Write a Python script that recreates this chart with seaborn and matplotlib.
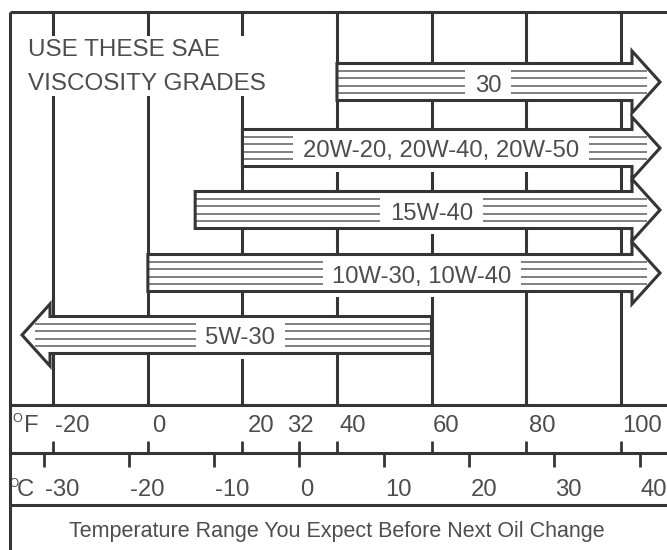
import matplotlib
matplotlib.use("Agg")
import matplotlib.pyplot as plt
from matplotlib.patches import FancyArrow, Rectangle
import seaborn as sns

# ---------------- data ----------------
grades = ["30", "20W-20, 20W-40, 20W-50", "15W-40", "10W-30, 10W-40", "5W-30"]
low_f = [40, 20, 10, 0, None]          # None -> no lower limit (arrow to the left)
high_f = [None, None, None, None, 60]  # None -> no upper limit (arrow to the right)
grid_f = [-20, 0, 20, 40, 60, 80, 100]
f_ticks = [-20, 0, 20, 32, 40, 60, 80, 100]
f_labels = ["-20", "0", "20", "32", "40", "60", "80", "100"]
c_ticks = [-30, -20, -10, 0, 10, 20, 30, 40]
c_labels = ["-30", "-20", "-10", "0", "10", "20", "30", "40"]
title_lines = ["USE THESE SAE", "VISCOSITY GRADES"]
caption = "Temperature Range You Expect Before Next Oil Change"

# ---------------- layout / style ----------------
W, H = 667, 550
PX0, PXF = 147.9, 4.727          # pixel position of 0 °F, pixels per °F


def xf(px):
    return (px - PX0) / PXF


ROW_Y = [82, 148, 210, 273, 335]
BAR_H = 37
HEAD_W = 62
HEAD_L = 28 / PXF
TIP_RIGHT = xf(660)
TIP_LEFT = xf(22)
LABEL_X = [72, 62, 60, 58, 19.5]
F_LABEL_DX = [2, 4, 5, -12, 3, 1, 3, 2]
LINE = "#353535"
TEXT = "#4d4d4d"
STRIPE = "#6a6a6a"
FONT = "Liberation Sans"
FS = 17.2

sns.set_theme(style="white")
plt.rcParams["font.family"] = [FONT, "DejaVu Sans"]

fig = plt.figure(figsize=(W / 100, H / 100), dpi=100)
ax = fig.add_axes([0, 0, 1, 1])
ax.set_xlim(xf(0), xf(W))
ax.set_ylim(H, 0)
ax.axis("off")

# frame / table lines
x_left = xf(10)
ax.vlines(grid_f, 12, 405, color=LINE, lw=2.2, zorder=1)
ax.vlines([x_left], 12, 550, color=LINE, lw=2.2, zorder=6)
ax.hlines([12, 405, 453, 505], x_left, xf(W), color=LINE, lw=2.2, zorder=6)

# white panel behind the heading
ax.add_patch(Rectangle((xf(12), 36), xf(330) - xf(12), 60, facecolor="white",
                       edgecolor="none", zorder=1.5))
ax.text(xf(28), 56, title_lines[0], fontsize=17.5, color=TEXT, ha="left",
        va="baseline", zorder=2)
ax.text(xf(28), 90, title_lines[1], fontsize=17.5, color=TEXT, ha="left",
        va="baseline", zorder=2)

# bars
for name, lo, hi, yc, lx in zip(grades, low_f, high_f, ROW_Y, LABEL_X):
    if hi is None:
        start, end = lo, TIP_RIGHT
        s0, s1 = lo, TIP_RIGHT - HEAD_L * 0.45
    else:
        start, end = hi, TIP_LEFT
        s0, s1 = TIP_LEFT + HEAD_L * 0.45, hi
    kw = dict(width=BAR_H, head_width=HEAD_W, head_length=HEAD_L,
              length_includes_head=True, overhang=0)
    ax.add_patch(FancyArrow(start, yc, end - start, 0, facecolor="white",
                            edgecolor="none", zorder=2, **kw))
    for k in (-1.5, -0.5, 0.5, 1.5):
        ax.hlines(yc + k * BAR_H / 5, s0, s1, color=STRIPE, lw=1.2, zorder=3)
    ax.text(lx, yc + 9.5, name, fontsize=FS, color=TEXT, ha="center",
            va="baseline", zorder=4,
            bbox=dict(boxstyle="square,pad=0.4", facecolor="white",
                      edgecolor="none"))
    ax.add_patch(FancyArrow(start, yc, end - start, 0, fill=False,
                            edgecolor=LINE, lw=2.2, zorder=5, **kw))

# Fahrenheit scale
ax.vlines(f_ticks, 441, 453, color=LINE, lw=2.0, zorder=6)
for t, lab, dx in zip(f_ticks, f_labels, F_LABEL_DX):
    ax.text(t + dx / PXF, 432, lab, fontsize=FS, color=TEXT, ha="left",
            va="baseline")
ax.text(xf(12), 422, "O", fontsize=9, color=TEXT, ha="left", va="baseline")
ax.text(xf(24), 432, "F", fontsize=FS, color=TEXT, ha="left", va="baseline")

# Celsius scale
c_pos = [c * 9 / 5 + 32 for c in c_ticks]
ax.vlines(c_pos, 453, 467, color=LINE, lw=2.0, zorder=6)
for p, lab in zip(c_pos, c_labels):
    ax.text(p + 1 / PXF, 496, lab, fontsize=FS, color=TEXT, ha="left",
            va="baseline")
ax.text(xf(9), 487, "O", fontsize=8.5, color=TEXT, ha="left", va="baseline")
ax.text(xf(17), 496, "C", fontsize=FS, color=TEXT, ha="left", va="baseline")

# caption
ax.text(xf(337), 537, caption, fontsize=15.5, color=TEXT, ha="center",
        va="baseline")

fig.savefig("out.png", dpi=100, facecolor="white")
